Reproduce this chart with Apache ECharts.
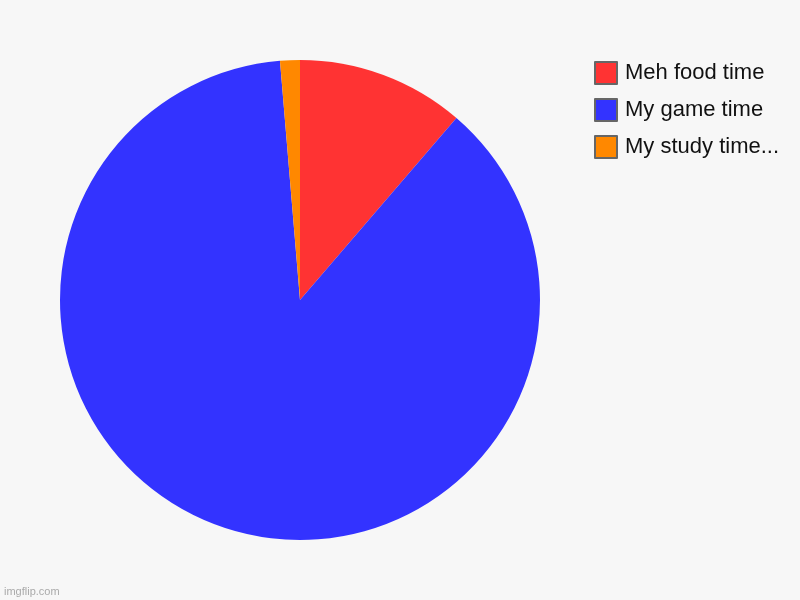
<!DOCTYPE html>
<html><head><meta charset="utf-8">
<script src="https://cdn.jsdelivr.net/npm/echarts@6/dist/echarts.min.js"></script>
<style>html,body{margin:0;padding:0;background:#f7f7f7}#c{width:800px;height:600px}</style>
</head><body><div id="c"></div>
<script>
const categories = ["Meh food time", "My game time", "My study time..."];
const values = [11.3, 87.37, 1.33];
const colors = ["#ff3333", "#3333ff", "#ff8800"];

const chart = echarts.init(document.getElementById('c'));
chart.setOption({
  backgroundColor: '#f7f7f7',
  animation: false,
  legend: {
    orient: 'vertical',
    left: 589,
    top: 56,
    icon: 'rect',
    itemWidth: 22,
    itemHeight: 22,
    itemGap: 13,
    itemStyle: { borderColor: '#666', borderWidth: 2 },
    textStyle: { fontFamily: 'Liberation Sans, Arial', fontSize: 22, lineHeight: 22, color: '#111', padding: [0,0,0,3] },
    data: categories
  },
  graphic: [{
    type: 'text', left: 4, top: 586,
    style: { text: 'imgflip.com', fill: '#aaa', font: '11px Liberation Sans, Arial' }
  }],
  series: [{
    type: 'pie',
    center: [300, 300],
    radius: 240,
    startAngle: 90,
    clockwise: true,
    label: { show: false },
    labelLine: { show: false },
    emphasis: { disabled: true },
    itemStyle: { borderWidth: 0 },
    data: categories.map((n, i) => ({ name: n, value: values[i], itemStyle: { color: colors[i] } }))
  }]
});
</script></body></html>
